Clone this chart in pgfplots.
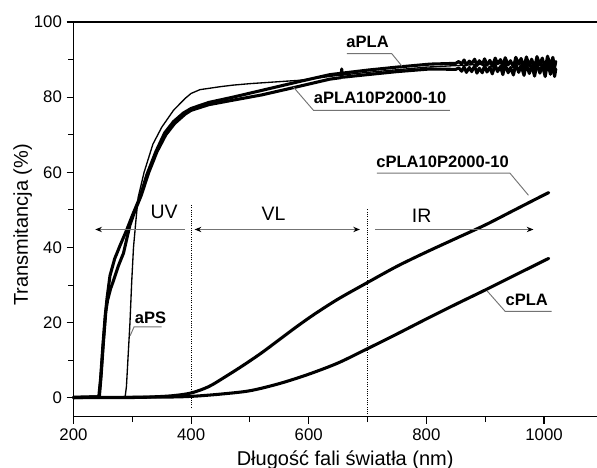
\documentclass[border=0pt]{standalone}
\usepackage{fontspec}
\setmainfont{Liberation Sans}
\usepackage{pgfplots}
\pgfplotsset{compat=1.18}
\usetikzlibrary{arrows.meta}
\definecolor{lead}{gray}{0.45}
\begin{document}
\begin{tikzpicture}
\begin{axis}[
  scale only axis, width=392.6pt, height=296pt,
  xmin=200, xmax=1090, ymin=-5, ymax=100,
  axis x line*=box, axis y line*=left,
  xtick={200,400,600,800,1000}, ytick={0,20,40,60,80,100},
  minor x tick num=1, minor y tick num=1,
  xtick pos=left, ytick pos=left,
  tick align=outside,
  major tick length=5.2pt, minor tick length=4pt,
  tick style={black, line width=0.8pt},
  axis line style={line width=1pt},
  /pgf/number format/assume math mode=true,
  /pgf/number format/1000 sep={},
  tick label style={font=\fontsize{12.6}{14}\selectfont},
  xlabel={Długość fali światła (nm)},
  ylabel={Transmitancja (\%)},
  label style={font=\fontsize{15}{17}\selectfont},
  xlabel style={at={(axis description cs:0.519,-0.11)}, anchor=center},
  ylabel style={at={(axis description cs:-0.097,0.486)}, anchor=center, rotate=0},
  every axis plot/.append style={line join=round, line cap=round},
  clip=false,
]
% aPS (thin)
\addplot[black, line width=1pt] coordinates {
(200,0.1)(286,0.1)(288,0.5)(290,3)(296,20)(299,31)(302,40)(306,47)(310,53.4)(320,60)(335,67.5)(350,72)(370,76.5)(390,79.7)(400,81)(415,82)(450,82.8)(471,83.2)(500,83.6)(585,84.5)(650,85.8)(700,86.6)(800,88)(900,88.8)(1000,89.2)(1015,89.5)};
% aPLA
\addplot[black, line width=2.3pt] coordinates {
(200,0.1)(243,0.3)(246,5)(250,14)(254,22)(257,26.5)(262,32.5)(270,37)(279,40.5)(290,44.5)(300,48.5)(312,53)(325,59.5)(340,65.5)(355,70.5)(370,73.5)(387,75.8)(400,77)(430,78.6)(471,80)(520,81.8)(585,84.2)(636,86)(700,87.2)(750,88)(806,88.8)(850,89.0)
(855,89.5)(860,88.8)(864,89.9)(868,88.6)(873,89.6)(877,88.9)(882,90.1)(886,88.4)(890,89.7)(895,88.7)(899,90.2)(903,88.5)(908,89.8)(912,88.2)(917,90.4)(921,88.9)(926,90.0)(930,88.1)(934,90.5)(939,88.6)(943,89.7)(948,88.0)(952,90.6)(957,88.8)(961,90.3)(966,87.9)(970,90.7)(975,88.4)(979,90.1)(984,87.8)(988,90.8)(993,88.6)(997,90.4)(1002,87.7)(1006,90.9)(1011,88.3)(1015,90.6)(1018,87.9)(1020,89.5)};
% aPLA10P2000-10
\addplot[black, line width=2.3pt] coordinates {
(200,0.1)(244,0.3)(247,6)(251,15)(255,23)(258,26)(263,29)(268,31.2)(276,35)(285,38.5)(296,46)(305,50)(315,53.8)(328,60)(342,65.5)(357,70)(372,73)(390,75.5)(400,76.5)(430,78)(471,79.2)(520,80.6)(573,82.5)(636,84.8)(655,85.2)(656,87.5)(657,85.3)(700,86)(750,86.8)(806,87.5)(850,87.4)
(855,87.8)(860,86.9)(864,88.1)(868,86.6)(873,87.9)(877,86.8)(882,88.3)(886,86.4)(890,87.7)(895,86.5)(899,88.4)(903,86.7)(908,88.0)(912,86.2)(917,88.6)(921,86.8)(926,88.2)(930,86.0)(934,88.7)(939,86.5)(943,87.9)(948,85.9)(952,88.8)(957,86.6)(961,88.5)(966,85.8)(970,88.9)(975,86.3)(979,88.4)(984,85.6)(988,89.0)(993,86.4)(997,88.6)(1002,85.5)(1006,89.1)(1011,86.1)(1015,88.8)(1018,85.5)(1020,87.5)};
% cPLA10P2000-10
\addplot[black, line width=2.3pt, smooth] coordinates {
(200,0.1)(300,0.1)(340,0.3)(370,0.6)(400,1.3)(430,3)(460,5.8)(490,8.8)(520,12)(550,15.5)(580,19)(610,22.3)(650,26.3)(700,30.7)(750,35)(800,38.8)(850,42.4)(900,46)(950,50)(1000,54)(1008,54.6)};
% cPLA
\addplot[black, line width=2.3pt, smooth] coordinates {
(200,0.1)(350,0.2)(400,0.4)(450,1)(500,1.9)(550,3.8)(600,6.3)(650,9.3)(700,13.1)(750,17)(800,21)(850,24.9)(900,28.7)(950,32.6)(1000,36.5)(1008,37.1)};

% region markers
\draw[densely dotted, line width=0.7pt] (axis cs:400,-2.6) -- (axis cs:400,51.2);
\draw[densely dotted, line width=0.7pt] (axis cs:700,-5) -- (axis cs:700,50.4);
\draw[lead, line width=1.1pt, {Stealth[length=5pt,width=4pt,black]}-] (axis cs:237,44.8) -- (axis cs:390,44.8);
\draw[lead, line width=1.1pt, {Stealth[length=5pt,width=4pt,black]}-{Stealth[length=5pt,width=4pt,black]}] (axis cs:406,44.8) -- (axis cs:687,44.8);
\draw[lead, line width=1.1pt, -{Stealth[length=5pt,width=4pt,black]}] (axis cs:713,44.8) -- (axis cs:982,44.8);
\node[font=\fontsize{14.6}{16}\selectfont, inner sep=0] at (axis cs:354,49.4) {UV};
\node[font=\fontsize{14.6}{16}\selectfont, inner sep=0] at (axis cs:540,49) {VL};
\node[font=\fontsize{14.6}{16}\selectfont, inner sep=0] at (axis cs:792,48.5) {IR};

% series labels
\node[font=\fontsize{12.4}{14}\selectfont\bfseries, inner sep=0] at (axis cs:700,94.8) {aPLA};
\draw[lead, line width=0.7pt] (axis cs:664.6,91.6) -- (axis cs:741,91.6) -- (axis cs:758.2,88.3);
\node[font=\fontsize{12.4}{14}\selectfont\bfseries, inner sep=0] at (axis cs:721.3,79.8) {aPLA10P2000-10};
\draw[lead, line width=0.7pt] (axis cs:840,76.5) -- (axis cs:608,76.5) -- (axis cs:573.8,82.7);
\node[font=\fontsize{12.4}{14}\selectfont\bfseries, inner sep=0] at (axis cs:827.5,62.9) {cPLA10P2000-10};
\draw[lead, line width=0.7pt] (axis cs:716,59.8) -- (axis cs:942,59.8) -- (axis cs:973.5,53.9);
\node[font=\fontsize{12.4}{14}\selectfont\bfseries, inner sep=0] at (axis cs:970.7,26.1) {cPLA};
\draw[lead, line width=0.7pt] (axis cs:1013,23) -- (axis cs:934,23) -- (axis cs:903,28.5);
\node[font=\fontsize{12.4}{14}\selectfont\bfseries, inner sep=0] at (axis cs:331,21.3) {aPS};
\draw[lead, line width=0.7pt] (axis cs:350,18.9) -- (axis cs:303,18.9) -- (axis cs:296.2,16.5);

\coordinate (ll) at (rel axis cs:0,0);
\end{axis}
\pgfresetboundingbox
\path[use as bounding box] ([shift={(-55.125pt,-38.5pt)}]ll) rectangle ++(447.75pt,351pt);
\end{tikzpicture}
\end{document}
